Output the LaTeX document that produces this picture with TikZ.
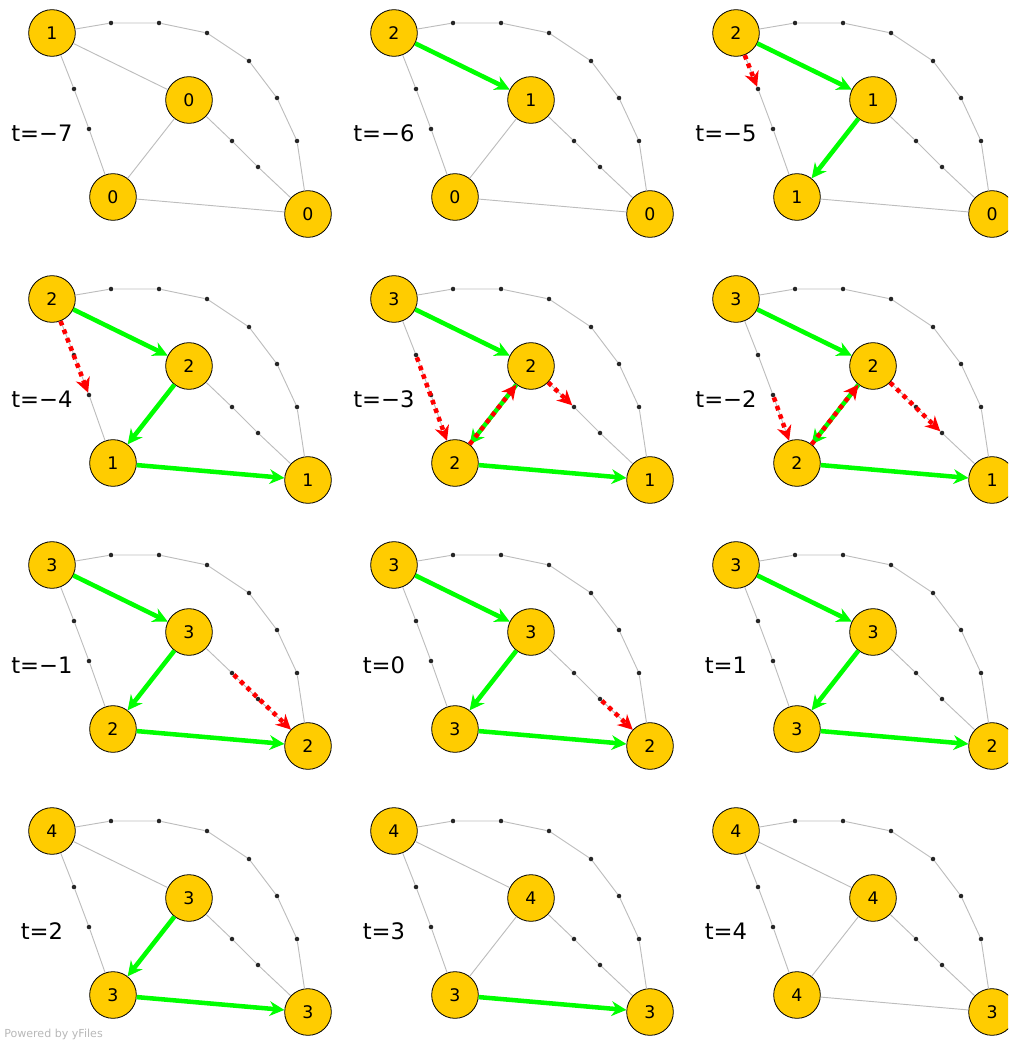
\documentclass[tikz,border=0pt]{standalone}
\usepackage{fontspec}
\setmainfont{DejaVu Sans}
\usetikzlibrary{arrows.meta}
\definecolor{nodegold}{HTML}{FFCC00}
\definecolor{edgegray}{HTML}{BDBDBD}
\definecolor{flowgreen}{HTML}{00FF00}
\definecolor{probered}{HTML}{FF0000}

\begin{document}
\begin{tikzpicture}[x=0.75pt, y=-0.75pt,
    vert/.style={circle, draw=black, line width=0.6pt, fill=nodegold, minimum size=35pt,
                 inner sep=0pt, font=\fontsize{13}{15}\selectfont},
    bendpt/.style={circle, fill=black!85, minimum size=3.4pt, inner sep=0pt},
    link/.style={draw=edgegray, line width=0.7pt},
    push/.style={draw=flowgreen, line width=3.4pt, -{Stealth[length=11pt, width=11pt, inset=3.5pt]}},
    probe/.style={draw=probered, line width=3.4pt, dash pattern=on 3.4pt off 3.4pt,
                  -{Stealth[length=11pt, width=11pt, inset=3.5pt]}},
    tlabel/.style={font=\fontsize{17}{19}\selectfont}]
    \useasboundingbox (0,0) rectangle (1008,1041);
    \clip (0,0) rectangle (1008,1041);
    % one panel per time step: the same graph, labels change
    \foreach \p/\col/\row/\tv/\va/\vb/\vc/\vd in {
        1/0/0/−7/1/0/0/0, 2/1/0/−6/2/1/0/0, 3/2/0/−5/2/1/1/0,
        4/0/1/−4/2/2/1/1, 5/1/1/−3/3/2/2/1, 6/2/1/−2/3/2/2/1,
        7/0/2/−1/3/3/2/2, 8/1/2/0/3/3/3/2, 9/2/2/1/3/3/3/2,
        10/0/3/2/4/3/3/3, 11/1/3/3/4/4/3/3, 12/2/3/4/4/4/4/3} {
        \begin{scope}[shift={(\col*342,\row*266)}]
            \node[vert] (a\p) at (52,33) {\va};
            \node[vert] (b\p) at (189,100) {\vb};
            \node[vert] (c\p) at (113,197) {\vc};
            \node[vert] (d\p) at (308,214) {\vd};
            \node[tlabel] (t\p) at (42,133) {t=\tv};
            % bend points of the routed edges
            \node[bendpt] (ac1-\p) at (74,89) {};
            \node[bendpt] (ac2-\p) at (89,129) {};
            \node[bendpt] (bd1-\p) at (232,141) {};
            \node[bendpt] (bd2-\p) at (258,167) {};
            \foreach \i/\x/\y in {1/111/23, 2/159/23, 3/207/33, 4/249/61, 5/277/98, 6/297/141}
                \node[bendpt] (ad\i-\p) at (\x,\y) {};
            \draw[link] (a\p) -- (b\p) -- (c\p) -- (d\p);
            \draw[link] (a\p) -- (ac1-\p) -- (ac2-\p) -- (c\p);
            \draw[link] (b\p) -- (bd1-\p) -- (bd2-\p) -- (d\p);
            \draw[link] (a\p) -- (ad1-\p) -- (ad2-\p) -- (ad3-\p) -- (ad4-\p)
                -- (ad5-\p) -- (ad6-\p) -- (d\p);
        \end{scope}
    }
    % green: label pushed along, red dotted: probe on a routed edge
    \draw[push] (a2) -- (b2);
    \draw[push] (a3) -- (b3);
    \draw[push] (b3) -- (c3);
    \draw[probe] (a3) -- (ac1-3);
    \foreach \p in {4,7,8,9} {
        \draw[push] (a\p) -- (b\p);
        \draw[push] (b\p) -- (c\p);
        \draw[push] (c\p) -- (d\p);
    }
    \draw[probe] (a4) -- (ac2-4);
    \foreach \p in {5,6} {
        \draw[push] (a\p) -- (b\p);
        \draw[push] (c\p) -- (d\p);
        \draw[push] (b\p) -- (c\p);
        \draw[probe] (c\p) -- (b\p);
    }
    \draw[probe] (ac1-5) -- (c5);
    \draw[probe] (b5) -- (bd1-5);
    \draw[probe] (ac2-6) -- (c6);
    \draw[probe] (b6) -- (bd2-6);
    \draw[probe] (bd1-7) -- (d7);
    \draw[probe] (bd2-8) -- (d8);
    \draw[push] (b10) -- (c10);
    \draw[push] (c10) -- (d10);
    \draw[push] (c11) -- (d11);
    \node[font=\fontsize{8.3}{9}\selectfont, text=black!28, anchor=west, inner sep=0pt]
        (credit) at (4,1034) {Powered by yFiles};
\end{tikzpicture}
\end{document}
